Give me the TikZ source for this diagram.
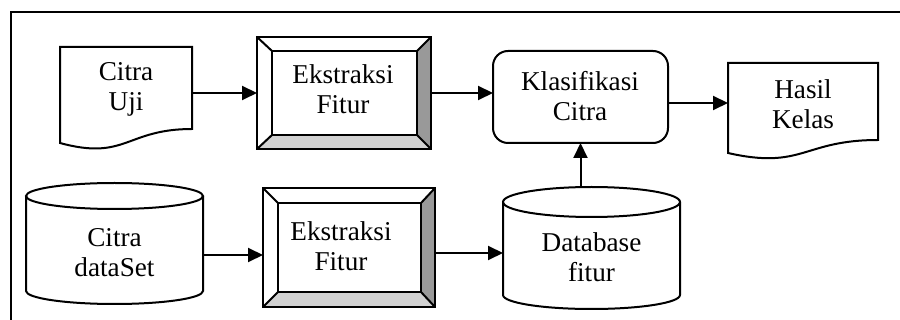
\documentclass[tikz,border=0pt]{standalone}
\usepackage{fontspec}
\setmainfont{Liberation Serif}
\usetikzlibrary{arrows.meta,fit}
\definecolor{bevdark}{gray}{0.6}
\definecolor{bevlight}{gray}{0.82}
\begin{document}
\begin{tikzpicture}[x=0.5pt,y=-0.5pt,
  line width=1pt,
  txt/.style={align=center, font=\fontsize{13.6}{15}\selectfont, inner sep=0pt},
  fitbox/.style={inner sep=0pt, outer sep=0pt, draw=none},
  arr/.style={-{Triangle[length=7.5pt,width=7pt]}},
]
\useasboundingbox (0,0) rectangle (900,320);
% frame
\draw (11,330) -- (11,12) -- (910,12);

% Citra Uji (document)
\node[fitbox, fit={(60,47) (192,143)}] (cu) {};
\draw (cu.south west) -- (cu.north west) -- (cu.north east) -- (192,129)
  .. controls (126,129) and (126,161) .. (cu.south west) -- cycle;
\node[txt] (cut) at (126,90) {\strut Citra\\\strut Uji};

% Ekstraksi Fitur (top)
\node[fitbox, fit={(257,37) (431,149)}] (ek1) {};
\fill[bevdark] (431,37) -- (431,149) -- (417,135) -- (417,51) -- cycle;
\fill[bevlight] (257,149) -- (431,149) -- (417,135) -- (272,135) -- cycle;
\draw (ek1.north west) rectangle (ek1.south east);
\draw (272,51) rectangle (417,135);
\draw (257,37) -- (272,51) (431,37) -- (417,51) (257,149) -- (272,135) (431,149) -- (417,135);
\node[txt] (ek1t) at (343,93) {\strut Ekstraksi\\\strut Fitur};

% Klasifikasi Citra
\node[fitbox, fit={(493,51) (668,143)}] (kl) {};
\draw[rounded corners=7.5pt] (kl.north west) rectangle (kl.south east);
\node[txt] (klt) at (580,99.5) {\strut Klasifikasi\\\strut Citra};

% Hasil Kelas (document)
\node[fitbox, fit={(728,63) (878,153)}] (hk) {};
\draw (hk.south west) -- (hk.north west) -- (hk.north east) -- (878,140)
  .. controls (803,140) and (803,170) .. (hk.south west) -- cycle;
\node[txt] (hkt) at (803,107.5) {\strut Hasil\\\strut Kelas};

% Citra dataSet (cylinder)
\node[fitbox, fit={(26,183) (203,304)}] (cd) {};
\draw (114.5,196) ellipse [x radius=44.25pt, y radius=6.5pt];
\draw (26,196) -- (26,291) arc[start angle=180, end angle=360, x radius=44.25pt, y radius=6.5pt] -- (203,196);
\node[txt] (cdt) at (114.5,255.5) {\strut Citra\\\strut dataSet};

% Ekstraksi Fitur (bottom)
\node[fitbox, fit={(263,188) (435,307)}] (ek2) {};
\fill[bevdark] (435,188) -- (435,307) -- (421,292) -- (421,203) -- cycle;
\fill[bevlight] (263,307) -- (435,307) -- (421,292) -- (278,292) -- cycle;
\draw (ek2.north west) rectangle (ek2.south east);
\draw (278,203) rectangle (421,292);
\draw (263,188) -- (278,203) (435,188) -- (421,203) (263,307) -- (278,292) (435,307) -- (421,292);
\node[txt] (ek2t) at (341,249.5) {\strut Ekstraksi\\\strut Fitur};

% Database fitur (cylinder)
\node[fitbox, fit={(503,187) (680,309)}] (db) {};
\draw (591.5,202) ellipse [x radius=44.25pt, y radius=7.5pt];
\draw (503,202) -- (503,295) arc[start angle=180, end angle=360, x radius=44.25pt, y radius=7pt] -- (680,202);
\node[txt] (dbt) at (591.5,260.5) {\strut Database\\\strut fitur};

% connectors
\draw[arr] (cu.east |- 0,93) -- (ek1.west |- 0,93);
\draw[arr] (ek1.east |- 0,93) -- (kl.west |- 0,93);
\draw[arr] (kl.east |- 0,103) -- (hk.west |- 0,103);
\draw[arr] (cd.east |- 0,255) -- (ek2.west |- 0,255);
\draw[arr] (ek2.east |- 0,253) -- (db.west |- 0,253);
\draw[arr] (kl.south |- db.north) -- (kl.south);
\end{tikzpicture}
\end{document}
